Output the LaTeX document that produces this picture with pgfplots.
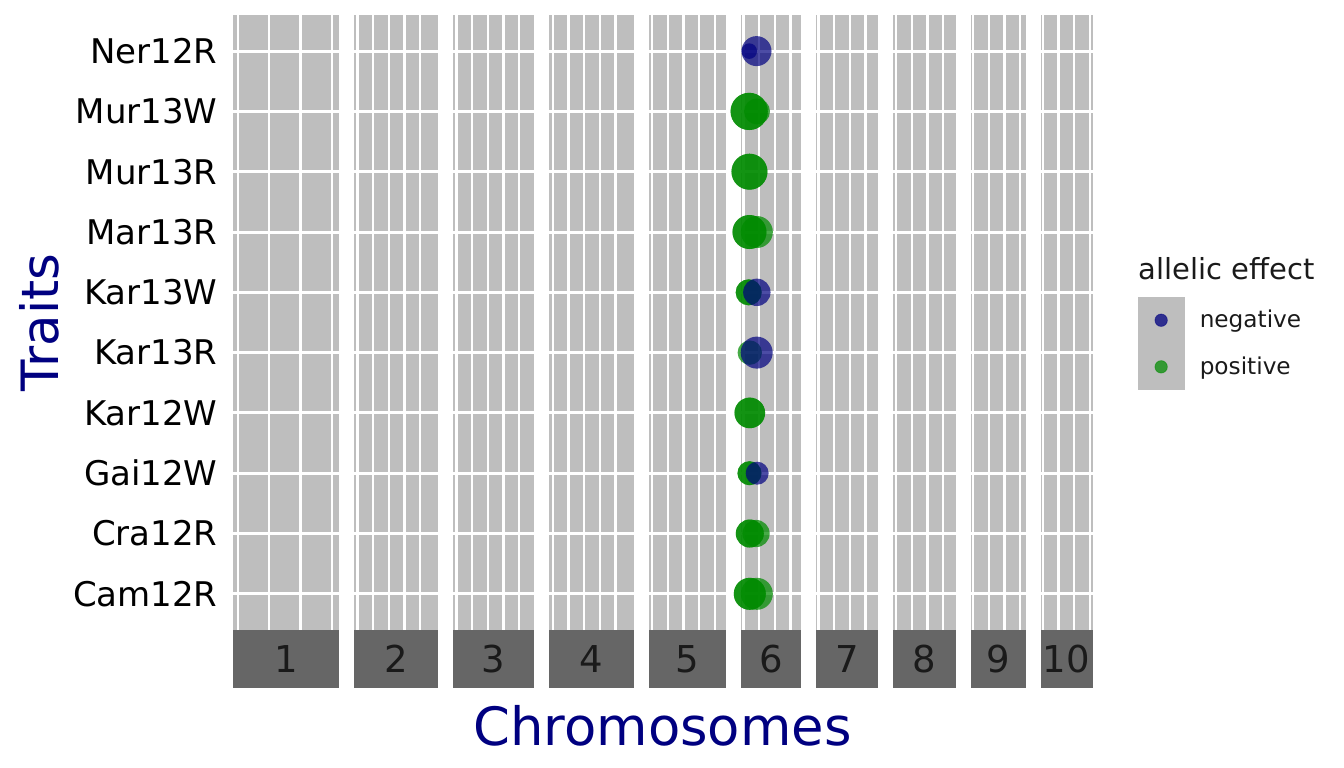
\documentclass[border=0pt]{standalone}
\usepackage{pgfplots}
\pgfplotsset{compat=1.18}
\usepackage{fontspec}
\setmainfont{DejaVu Sans}
\definecolor{panelbg}{HTML}{BEBEBE}
\definecolor{stripbg}{HTML}{666666}
\definecolor{stripfg}{HTML}{1A1A1A}
\definecolor{negc}{HTML}{000080}
\definecolor{posc}{HTML}{008B00}
\definecolor{titlec}{HTML}{000080}
\pgfplotsset{
  panel/.style={
    x=0.15665bp, y=30.15bp,
    ymin=0.4, ymax=10.6,
    ytick={1,...,10}, yticklabels={},
    xticklabels={},
    axis background/.style={fill=panelbg},
    axis line style={draw=none},
    major tick length=0pt,
    tick style={draw=none},
    xmajorgrids, ymajorgrids,
    x grid style={white, line width=1.15bp},
    y grid style={white, line width=1.5bp},
    anchor=south west,
    clip=false,
  }
}
\begin{document}
\begin{tikzpicture}
\useasboundingbox (0,0) rectangle (672bp,384bp);
% panel 1
\begin{axis}[panel, name=p1, at={(116.5bp,69bp)}, xmin=-15.352, xmax=322.392, xtick={0,100,200,300},
  yticklabels={Cam12R,Cra12R,Gai12W,Kar12W,Kar13R,Kar13W,Mar13R,Mur13R,Mur13W,Ner12R},
  yticklabel style={anchor=east, inner sep=0pt, xshift=-7.5bp, font=\fontsize{17bp}{20bp}\selectfont, text=black}]
\end{axis}
\begin{axis}[panel, name=p2, at={(176.83bp,69bp)}, xmin=-12.222, xmax=256.662, xtick={0,50,100,150,200}]
\end{axis}
\begin{axis}[panel, name=p3, at={(226.375bp,69bp)}, xmin=-11.7835, xmax=247.4535, xtick={0,50,100,150,200}]
\end{axis}
\begin{axis}[panel, name=p4, at={(274.41bp,69bp)}, xmin=-12.3495, xmax=259.3395, xtick={0,50,100,150,200}]
\end{axis}
\begin{axis}[panel, name=p5, at={(324.395bp,69bp)}, xmin=-11.195, xmax=235.095, xtick={0,50,100,150,200}]
\end{axis}
\begin{axis}[panel, name=p6, at={(370.4bp,69bp)}, xmin=-8.7015, xmax=182.7315, xtick={0,50,100,150}]
\addplot[scatter, only marks, mark=*, point meta=explicit, mark options={draw opacity=0},
  visualization depends on={\thisrow{r} \as \rr},
  scatter/use mapped color={draw=posc, draw opacity=0, fill=posc, fill opacity=0.72},
  scatter/@pre marker code/.append style={/tikz/mark size=\rr bp}]
  table[x=x, y=y, meta=r] {
x y r
18 9 9.3
18 9 9.3
43 9 6.5
19 8 9.0
19 8 9.0
19 7 8.5
19 7 8.5
42.5 7 8.0
16.5 6 6.5
16.5 6 6.5
20 5 6.1
20 4 7.65
20 4 7.65
19 3 6.0
19 3 6.0
20 2 7.0
20 2 7.0
40 2 6.8
20 1 8.0
20 1 8.0
42.5 1 8.0
};
\addplot[scatter, only marks, mark=*, point meta=explicit, mark options={draw opacity=0},
  visualization depends on={\thisrow{r} \as \rr},
  scatter/use mapped color={draw=negc, draw opacity=0, fill=negc, fill opacity=0.7},
  scatter/@pre marker code/.append style={/tikz/mark size=\rr bp}]
  table[x=x, y=y, meta=r] {
x y r
18.3 10 3.9
41.5 10 7.5
42.5 6 6.85
42 5 8.0
43.5 3 5.75
};
\end{axis}
\begin{axis}[panel, name=p7, at={(407.815bp,69bp)}, xmin=-9.119, xmax=191.499, xtick={0,50,100,150}]
\end{axis}
\begin{axis}[panel, name=p8, at={(446.665bp,69bp)}, xmin=-9.056, xmax=190.176, xtick={0,50,100,150}]
\end{axis}
\begin{axis}[panel, name=p9, at={(485.3bp,69bp)}, xmin=-7.9885, xmax=167.7585, xtick={0,50,100,150}]
\end{axis}
\begin{axis}[panel, name=p10, at={(520.255bp,69bp)}, xmin=-7.549, xmax=158.529, xtick={0,50,100,150},
  legend cell align=left,
  legend style={at={(axis description cs:1.865,0.5415)}, anchor=north west, draw=none, fill=none,
    inner sep=0pt, outer sep=0pt, row sep=0pt, column sep=7.5bp,
    font=\fontsize{11.6bp}{13bp}\selectfont, nodes={inner sep=0pt, text=stripfg}},
  legend image code/.code={\fill[panelbg] (-11.6bp,-11.45bp) rectangle (11.6bp,11.45bp);
    \draw[#1] plot coordinates {(0cm,0cm)};}]
\addlegendimage{only marks, mark=*, mark size=3.1bp, mark options={draw=negc, draw opacity=0.5, line width=0.4bp, fill=negc, fill opacity=0.75}}
\addlegendentry{negative}
\addlegendimage{only marks, mark=*, mark size=3.1bp, mark options={draw=posc, draw opacity=0.5, line width=0.4bp, fill=posc, fill opacity=0.72}}
\addlegendentry{positive}
\end{axis}
% strips
\foreach \p/\lab in {p1/1,p2/2,p3/3,p4/4,p5/5,p6/6,p7/7,p8/8,p9/9,p10/10}{
  \fill[stripbg] (\p.south west) rectangle ([yshift=-29bp]\p.south east);
  \node[font=\fontsize{18.5bp}{20bp}\selectfont, text=stripfg, inner sep=0pt] at ([yshift=-14.5bp]\p.south) {\lab};
}
% titles
\node[anchor=base, font=\fontsize{26.4bp}{30bp}\selectfont, text=titlec, inner sep=0pt] at (331.25bp,11.5bp) {Chromosomes};
\node[anchor=base, rotate=90, font=\fontsize{25.7bp}{30bp}\selectfont, text=titlec, inner sep=0pt] at (29bp,222.75bp) {Traits};
\node[anchor=base west, font=\fontsize{14.5bp}{17bp}\selectfont, text=stripfg, inner sep=0pt] at (569bp,244bp) {allelic effect};
\end{tikzpicture}
\end{document}
